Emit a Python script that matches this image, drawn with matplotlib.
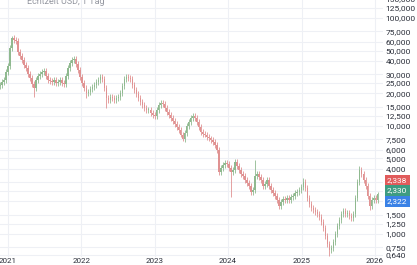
import matplotlib
matplotlib.use('Agg')
import datetime as dt
import matplotlib.pyplot as plt
import matplotlib.dates as mdates
from matplotlib.ticker import NullLocator

# candle closes, one every 10 days starting at START
START = dt.date(2020, 11, 21)
STEP_DAYS = 10
closes = [
  24.0, 25.6, 26.7, 31.6, 35.9, 52.8, 65.3, 62.6, 61.2, 48.4,
  44.5, 40.8, 36.7, 34.4, 30.3, 27.8, 24.5, 22.5, 26.7, 29.0,
  30.3, 31.6, 32.3, 29.0, 26.7, 26.1, 25.6, 26.7, 25.0, 25.6,
  26.7, 25.0, 24.5, 29.0, 34.4, 38.3, 40.8, 41.7, 37.5, 33.0,
  28.4, 25.0, 22.5, 20.2, 20.6, 22.0, 23.0, 24.0, 25.6, 26.7,
  28.4, 27.2, 22.5, 18.2, 17.4, 18.6, 18.2, 17.4, 18.2, 18.6,
  20.2, 23.5, 27.2, 28.4, 27.8, 27.2, 24.0, 21.5, 19.8, 18.2,
  16.7, 15.6, 14.7, 14.1, 14.1, 13.2, 12.6, 12.4, 14.1, 15.6,
  16.3, 16.0, 14.7, 13.5, 12.6, 11.9, 11.1, 10.4, 9.8, 9.2,
  8.3, 7.6, 8.6, 10.0, 10.9, 11.9, 12.4, 11.9, 10.9, 9.8,
  8.8, 8.4, 8.3, 7.9, 7.7, 7.4, 7.1, 6.7, 6.0, 3.75,
  4.08, 4.35, 4.54, 4.45, 4.08, 3.75, 3.91, 4.64, 4.26, 3.91,
  3.59, 3.44, 3.16, 2.97, 2.78, 2.45, 2.56, 3.44, 3.59, 3.37,
  3.16, 2.78, 2.90, 3.16, 2.78, 2.56, 2.40, 2.25, 2.06, 1.82,
  1.98, 2.11, 2.06, 2.15, 2.06, 2.20, 2.25, 2.40, 2.45, 2.56,
  2.72, 3.03, 2.67, 2.15, 1.90, 1.74, 1.67, 1.60, 1.53, 1.44,
  1.29, 1.14, 0.96, 0.81, 0.71, 0.74, 0.84, 1.00, 1.19, 1.35,
  1.53, 1.63, 1.53, 1.57, 1.47, 1.41, 1.53, 2.15, 3.03, 3.91,
  3.59, 3.16, 2.78, 2.25, 1.82, 2.06, 2.15, 2.06, 2.33,
]
# long wicks visible in the chart (candle index, extreme value)
spike_idx = [6, 17, 43, 53, 91, 115, 127, 151, 164, 179, 184]
spike_val = [68.0, 18.6, 18.2, 14.7, 7.2, 2.2, 4.84, 3.3, 0.62, 4.3, 1.67]

ytick_vals = [150, 125, 100, 75, 60, 50, 40, 30, 25, 20, 15, 12.5, 10,
              7.5, 6, 5, 4, 1.5, 1.25, 1, 0.75, 0.64]
grid_only = [3, 2.5, 2]
years = [2021, 2022, 2023, 2024, 2025, 2026]
last_price = 2.33
price_tags = ['2,338', '2,330', '2,322']
tag_colors = ['#e15b5b', '#3d9c82', '#3a82e6']
tag_offsets = [14, 4, -7]

UP = '#8fb98f'
DOWN = '#e09292'

plt.rcParams['font.family'] = ['Roboto', 'DejaVu Sans']

fig = plt.figure(figsize=(4.17, 2.65), dpi=100)
ax = fig.add_axes([0, 8/265, 383/417, 259/265])

dates = [START + dt.timedelta(days=STEP_DAYS*i) for i in range(len(closes))]
xs = mdates.date2num(dates)
opens = [closes[0]*0.97] + closes[:-1]
highs = [max(o, c)*1.06 for o, c in zip(opens, closes)]
lows = [min(o, c)/1.06 for o, c in zip(opens, closes)]
for i, v in zip(spike_idx, spike_val):
  if v > closes[i]:
    highs[i] = v
  else:
    lows[i] = v
cols = [UP if c >= o else DOWN for o, c in zip(opens, closes)]

ax.vlines(xs, lows, highs, colors=cols, linewidth=0.6, zorder=2)
bottoms = [min(o, c) for o, c in zip(opens, closes)]
heights = [max(abs(c - o), min(o, c)*0.02) for o, c in zip(opens, closes)]
ax.bar(xs, heights, bottom=bottoms, width=7, color=cols, linewidth=0, zorder=3)

ax.set_yscale('log')
ax.set_ylim(0.612, 153.2)
ax.set_xlim(mdates.date2num(dt.date(2020, 11, 22)), mdates.date2num(dt.date(2026, 2, 10)))

ax.yaxis.tick_right()
ax.set_yticks(ytick_vals + grid_only)
ax.set_yticklabels([('%.3f' % v).replace('.', ',') for v in ytick_vals] + ['']*len(grid_only))
ax.yaxis.set_minor_locator(NullLocator())
ax.set_xticks([mdates.date2num(dt.date(y, 1, 1)) for y in years])
ax.set_xticklabels([str(y) for y in years])
ax.tick_params(axis='y', length=0, pad=2, labelsize=6, labelcolor='#2a2e39')
ax.tick_params(axis='x', length=0, pad=1, labelsize=5.8, labelcolor='#2a2e39')
ax.grid(True, color='#eef0f5', linewidth=0.8, zorder=0)
ax.set_axisbelow(True)
for s in ax.spines.values():
  s.set_visible(False)

for txt, c, off in zip(price_tags, tag_colors, tag_offsets):
  ax.annotate(txt, xy=(1, last_price), xycoords=('axes fraction', 'data'),
              xytext=(4, off), textcoords='offset pixels', ha='left', va='center',
              fontsize=6, color='white', annotation_clip=False,
              bbox=dict(boxstyle='square,pad=0.3', fc=c, ec='none'))

fig.text(27/417, 1 - 2/265, 'Echtzeit USD, 1 Tag', va='center', ha='left',
         fontsize=6.5, color='#9598a1')

fig.savefig('out.png', dpi=100)
